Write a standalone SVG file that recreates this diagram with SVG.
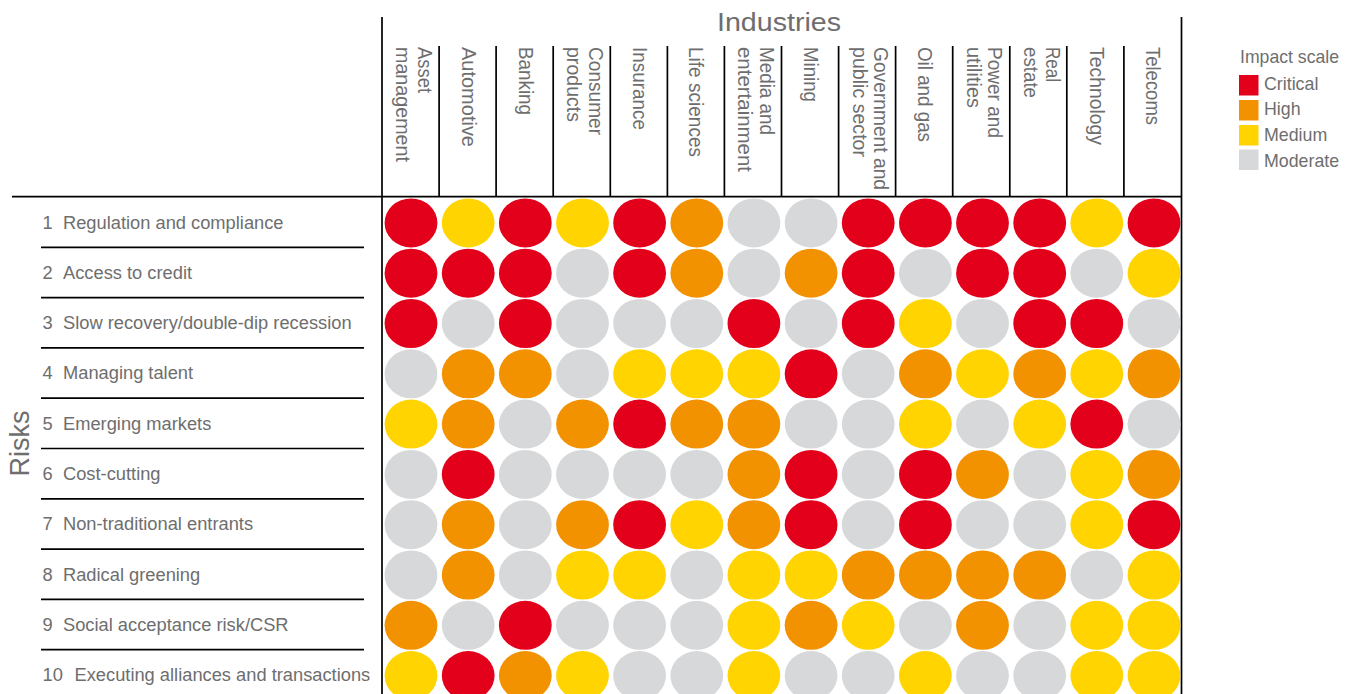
<svg xmlns="http://www.w3.org/2000/svg" width="1354" height="694" viewBox="0 0 1354 694">
<style>
text{font-family:"Liberation Sans",Arial,sans-serif;fill:#6e6e6e}
.col{font-size:21px}
.row{font-size:18.3px}
.leg{font-size:17.8px}
.ln{stroke:#000;stroke-width:1.7;fill:none}
.r{fill:#E3001B}.o{fill:#F39200}.y{fill:#FFD400}.g{fill:#D7D8DA}
</style>
<rect width="1354" height="694" fill="#fff"/>
<g id="lines">
<path class="ln" d="M382 17V694M1181.5 17V694M12 196.7H1182"/>
<path class="ln" d="M439.1 46V196M496.1 46V196M553.2 46V196M610.3 46V196M667.4 46V196M724.4 46V196M781.5 46V196M838.6 46V196M895.6 46V196M952.7 46V196M1009.8 46V196M1066.8 46V196M1123.9 46V196"/>
<path class="ln" d="M41 247.3H364M41 297.6H364M41 347.9H364M41 398.2H364M41 448.5H364M41 498.8H364M41 549.1H364M41 599.4H364M41 649.7H364"/>
</g>
<g id="titles">
<text x="779" y="30.5" font-size="26.5" text-anchor="middle" textLength="124" lengthAdjust="spacingAndGlyphs">Industries</text>
<text transform="translate(29,443.5) rotate(-90)" font-size="27" text-anchor="middle">Risks</text>
</g>
<g id="industries" class="col">
<text class="col" transform="translate(417.5,47) rotate(90)" textLength="46" lengthAdjust="spacingAndGlyphs">Asset</text>
<text class="col" transform="translate(396,47) rotate(90)" textLength="115" lengthAdjust="spacingAndGlyphs">management</text>
<text class="col" transform="translate(462,47) rotate(90)" textLength="100" lengthAdjust="spacingAndGlyphs">Automotive</text>
<text class="col" transform="translate(518.5,47) rotate(90)" textLength="68" lengthAdjust="spacingAndGlyphs">Banking</text>
<text class="col" transform="translate(589,47) rotate(90)" textLength="88" lengthAdjust="spacingAndGlyphs">Consumer</text>
<text class="col" transform="translate(567,47) rotate(90)" textLength="75" lengthAdjust="spacingAndGlyphs">products</text>
<text class="col" transform="translate(632.5,47) rotate(90)" textLength="83" lengthAdjust="spacingAndGlyphs">Insurance</text>
<text class="col" transform="translate(689,47) rotate(90)" textLength="110" lengthAdjust="spacingAndGlyphs">Life sciences</text>
<text class="col" transform="translate(759.5,47) rotate(90)" textLength="88" lengthAdjust="spacingAndGlyphs">Media and</text>
<text class="col" transform="translate(737.5,47) rotate(90)" textLength="125" lengthAdjust="spacingAndGlyphs">entertainment</text>
<text class="col" transform="translate(803.5,47) rotate(90)" textLength="55" lengthAdjust="spacingAndGlyphs">Mining</text>
<text class="col" transform="translate(874,47) rotate(90)" textLength="143" lengthAdjust="spacingAndGlyphs">Government and</text>
<text class="col" transform="translate(852.5,47) rotate(90)" textLength="110" lengthAdjust="spacingAndGlyphs">public sector</text>
<text class="col" transform="translate(917.5,47) rotate(90)" textLength="95" lengthAdjust="spacingAndGlyphs">Oil and gas</text>
<text class="col" transform="translate(988,47) rotate(90)" textLength="91" lengthAdjust="spacingAndGlyphs">Power and</text>
<text class="col" transform="translate(966.5,47) rotate(90)" textLength="61" lengthAdjust="spacingAndGlyphs">utilities</text>
<text class="col" transform="translate(1045.5,47) rotate(90)" textLength="35" lengthAdjust="spacingAndGlyphs">Real</text>
<text class="col" transform="translate(1023.5,47) rotate(90)" textLength="51" lengthAdjust="spacingAndGlyphs">estate</text>
<text class="col" transform="translate(1089.5,47) rotate(90)" textLength="98" lengthAdjust="spacingAndGlyphs">Technology</text>
<text class="col" transform="translate(1146,47) rotate(90)" textLength="78" lengthAdjust="spacingAndGlyphs">Telecoms</text>
</g>
<g id="legend">
<text class="leg" x="1240" y="63" textLength="99" lengthAdjust="spacingAndGlyphs">Impact scale</text>
<rect class="r" x="1239" y="75" width="19.5" height="20.5"/>
<rect class="o" x="1239" y="100" width="19.5" height="20.5"/>
<rect class="y" x="1239" y="125" width="19.5" height="20.5"/>
<rect class="g" x="1239" y="149.5" width="19.5" height="20.5"/>
<text class="leg" x="1264" y="89.5">Critical</text>
<text class="leg" x="1264" y="115">High</text>
<text class="leg" x="1264" y="141">Medium</text>
<text class="leg" x="1264" y="166.5">Moderate</text>
</g>
<g id="risk1"><text class="row" x="42.5" y="228.5">1</text><text class="row" x="63" y="228.5">Regulation and compliance</text>
<ellipse class="r" cx="411" cy="222.9" rx="26.4" ry="24.5"/><ellipse class="y" cx="468.2" cy="222.9" rx="26.4" ry="24.5"/><ellipse class="r" cx="525.3" cy="222.9" rx="26.4" ry="24.5"/><ellipse class="y" cx="582.5" cy="222.9" rx="26.4" ry="24.5"/><ellipse class="r" cx="639.6" cy="222.9" rx="26.4" ry="24.5"/><ellipse class="o" cx="696.8" cy="222.9" rx="26.4" ry="24.5"/><ellipse class="g" cx="753.9" cy="222.9" rx="26.4" ry="24.5"/><ellipse class="g" cx="811.1" cy="222.9" rx="26.4" ry="24.5"/><ellipse class="r" cx="868.2" cy="222.9" rx="26.4" ry="24.5"/><ellipse class="r" cx="925.4" cy="222.9" rx="26.4" ry="24.5"/><ellipse class="r" cx="982.5" cy="222.9" rx="26.4" ry="24.5"/><ellipse class="r" cx="1039.7" cy="222.9" rx="26.4" ry="24.5"/><ellipse class="y" cx="1096.8" cy="222.9" rx="26.4" ry="24.5"/><ellipse class="r" cx="1154" cy="222.9" rx="26.4" ry="24.5"/></g>
<g id="risk2"><text class="row" x="42.5" y="278.8">2</text><text class="row" x="63" y="278.8">Access to credit</text>
<ellipse class="r" cx="411" cy="273.2" rx="26.4" ry="24.5"/><ellipse class="r" cx="468.2" cy="273.2" rx="26.4" ry="24.5"/><ellipse class="r" cx="525.3" cy="273.2" rx="26.4" ry="24.5"/><ellipse class="g" cx="582.5" cy="273.2" rx="26.4" ry="24.5"/><ellipse class="r" cx="639.6" cy="273.2" rx="26.4" ry="24.5"/><ellipse class="o" cx="696.8" cy="273.2" rx="26.4" ry="24.5"/><ellipse class="g" cx="753.9" cy="273.2" rx="26.4" ry="24.5"/><ellipse class="o" cx="811.1" cy="273.2" rx="26.4" ry="24.5"/><ellipse class="r" cx="868.2" cy="273.2" rx="26.4" ry="24.5"/><ellipse class="g" cx="925.4" cy="273.2" rx="26.4" ry="24.5"/><ellipse class="r" cx="982.5" cy="273.2" rx="26.4" ry="24.5"/><ellipse class="r" cx="1039.7" cy="273.2" rx="26.4" ry="24.5"/><ellipse class="g" cx="1096.8" cy="273.2" rx="26.4" ry="24.5"/><ellipse class="y" cx="1154" cy="273.2" rx="26.4" ry="24.5"/></g>
<g id="risk3"><text class="row" x="42.5" y="329.1">3</text><text class="row" x="63" y="329.1">Slow recovery/double-dip recession</text>
<ellipse class="r" cx="411" cy="323.5" rx="26.4" ry="24.5"/><ellipse class="g" cx="468.2" cy="323.5" rx="26.4" ry="24.5"/><ellipse class="r" cx="525.3" cy="323.5" rx="26.4" ry="24.5"/><ellipse class="g" cx="582.5" cy="323.5" rx="26.4" ry="24.5"/><ellipse class="g" cx="639.6" cy="323.5" rx="26.4" ry="24.5"/><ellipse class="g" cx="696.8" cy="323.5" rx="26.4" ry="24.5"/><ellipse class="r" cx="753.9" cy="323.5" rx="26.4" ry="24.5"/><ellipse class="g" cx="811.1" cy="323.5" rx="26.4" ry="24.5"/><ellipse class="r" cx="868.2" cy="323.5" rx="26.4" ry="24.5"/><ellipse class="y" cx="925.4" cy="323.5" rx="26.4" ry="24.5"/><ellipse class="g" cx="982.5" cy="323.5" rx="26.4" ry="24.5"/><ellipse class="r" cx="1039.7" cy="323.5" rx="26.4" ry="24.5"/><ellipse class="r" cx="1096.8" cy="323.5" rx="26.4" ry="24.5"/><ellipse class="g" cx="1154" cy="323.5" rx="26.4" ry="24.5"/></g>
<g id="risk4"><text class="row" x="42.5" y="379.4">4</text><text class="row" x="63" y="379.4">Managing talent</text>
<ellipse class="g" cx="411" cy="373.8" rx="26.4" ry="24.5"/><ellipse class="o" cx="468.2" cy="373.8" rx="26.4" ry="24.5"/><ellipse class="o" cx="525.3" cy="373.8" rx="26.4" ry="24.5"/><ellipse class="g" cx="582.5" cy="373.8" rx="26.4" ry="24.5"/><ellipse class="y" cx="639.6" cy="373.8" rx="26.4" ry="24.5"/><ellipse class="y" cx="696.8" cy="373.8" rx="26.4" ry="24.5"/><ellipse class="y" cx="753.9" cy="373.8" rx="26.4" ry="24.5"/><ellipse class="r" cx="811.1" cy="373.8" rx="26.4" ry="24.5"/><ellipse class="g" cx="868.2" cy="373.8" rx="26.4" ry="24.5"/><ellipse class="o" cx="925.4" cy="373.8" rx="26.4" ry="24.5"/><ellipse class="y" cx="982.5" cy="373.8" rx="26.4" ry="24.5"/><ellipse class="o" cx="1039.7" cy="373.8" rx="26.4" ry="24.5"/><ellipse class="y" cx="1096.8" cy="373.8" rx="26.4" ry="24.5"/><ellipse class="o" cx="1154" cy="373.8" rx="26.4" ry="24.5"/></g>
<g id="risk5"><text class="row" x="42.5" y="429.7">5</text><text class="row" x="63" y="429.7">Emerging markets</text>
<ellipse class="y" cx="411" cy="424.1" rx="26.4" ry="24.5"/><ellipse class="o" cx="468.2" cy="424.1" rx="26.4" ry="24.5"/><ellipse class="g" cx="525.3" cy="424.1" rx="26.4" ry="24.5"/><ellipse class="o" cx="582.5" cy="424.1" rx="26.4" ry="24.5"/><ellipse class="r" cx="639.6" cy="424.1" rx="26.4" ry="24.5"/><ellipse class="o" cx="696.8" cy="424.1" rx="26.4" ry="24.5"/><ellipse class="o" cx="753.9" cy="424.1" rx="26.4" ry="24.5"/><ellipse class="g" cx="811.1" cy="424.1" rx="26.4" ry="24.5"/><ellipse class="g" cx="868.2" cy="424.1" rx="26.4" ry="24.5"/><ellipse class="y" cx="925.4" cy="424.1" rx="26.4" ry="24.5"/><ellipse class="g" cx="982.5" cy="424.1" rx="26.4" ry="24.5"/><ellipse class="y" cx="1039.7" cy="424.1" rx="26.4" ry="24.5"/><ellipse class="r" cx="1096.8" cy="424.1" rx="26.4" ry="24.5"/><ellipse class="g" cx="1154" cy="424.1" rx="26.4" ry="24.5"/></g>
<g id="risk6"><text class="row" x="42.5" y="480">6</text><text class="row" x="63" y="480">Cost-cutting</text>
<ellipse class="g" cx="411" cy="474.4" rx="26.4" ry="24.5"/><ellipse class="r" cx="468.2" cy="474.4" rx="26.4" ry="24.5"/><ellipse class="g" cx="525.3" cy="474.4" rx="26.4" ry="24.5"/><ellipse class="g" cx="582.5" cy="474.4" rx="26.4" ry="24.5"/><ellipse class="g" cx="639.6" cy="474.4" rx="26.4" ry="24.5"/><ellipse class="g" cx="696.8" cy="474.4" rx="26.4" ry="24.5"/><ellipse class="o" cx="753.9" cy="474.4" rx="26.4" ry="24.5"/><ellipse class="r" cx="811.1" cy="474.4" rx="26.4" ry="24.5"/><ellipse class="g" cx="868.2" cy="474.4" rx="26.4" ry="24.5"/><ellipse class="r" cx="925.4" cy="474.4" rx="26.4" ry="24.5"/><ellipse class="o" cx="982.5" cy="474.4" rx="26.4" ry="24.5"/><ellipse class="g" cx="1039.7" cy="474.4" rx="26.4" ry="24.5"/><ellipse class="y" cx="1096.8" cy="474.4" rx="26.4" ry="24.5"/><ellipse class="o" cx="1154" cy="474.4" rx="26.4" ry="24.5"/></g>
<g id="risk7"><text class="row" x="42.5" y="530.3">7</text><text class="row" x="63" y="530.3">Non-traditional entrants</text>
<ellipse class="g" cx="411" cy="524.7" rx="26.4" ry="24.5"/><ellipse class="o" cx="468.2" cy="524.7" rx="26.4" ry="24.5"/><ellipse class="g" cx="525.3" cy="524.7" rx="26.4" ry="24.5"/><ellipse class="o" cx="582.5" cy="524.7" rx="26.4" ry="24.5"/><ellipse class="r" cx="639.6" cy="524.7" rx="26.4" ry="24.5"/><ellipse class="y" cx="696.8" cy="524.7" rx="26.4" ry="24.5"/><ellipse class="o" cx="753.9" cy="524.7" rx="26.4" ry="24.5"/><ellipse class="r" cx="811.1" cy="524.7" rx="26.4" ry="24.5"/><ellipse class="g" cx="868.2" cy="524.7" rx="26.4" ry="24.5"/><ellipse class="r" cx="925.4" cy="524.7" rx="26.4" ry="24.5"/><ellipse class="g" cx="982.5" cy="524.7" rx="26.4" ry="24.5"/><ellipse class="g" cx="1039.7" cy="524.7" rx="26.4" ry="24.5"/><ellipse class="y" cx="1096.8" cy="524.7" rx="26.4" ry="24.5"/><ellipse class="r" cx="1154" cy="524.7" rx="26.4" ry="24.5"/></g>
<g id="risk8"><text class="row" x="42.5" y="580.6">8</text><text class="row" x="63" y="580.6">Radical greening</text>
<ellipse class="g" cx="411" cy="575" rx="26.4" ry="24.5"/><ellipse class="o" cx="468.2" cy="575" rx="26.4" ry="24.5"/><ellipse class="g" cx="525.3" cy="575" rx="26.4" ry="24.5"/><ellipse class="y" cx="582.5" cy="575" rx="26.4" ry="24.5"/><ellipse class="y" cx="639.6" cy="575" rx="26.4" ry="24.5"/><ellipse class="g" cx="696.8" cy="575" rx="26.4" ry="24.5"/><ellipse class="y" cx="753.9" cy="575" rx="26.4" ry="24.5"/><ellipse class="y" cx="811.1" cy="575" rx="26.4" ry="24.5"/><ellipse class="o" cx="868.2" cy="575" rx="26.4" ry="24.5"/><ellipse class="o" cx="925.4" cy="575" rx="26.4" ry="24.5"/><ellipse class="o" cx="982.5" cy="575" rx="26.4" ry="24.5"/><ellipse class="o" cx="1039.7" cy="575" rx="26.4" ry="24.5"/><ellipse class="g" cx="1096.8" cy="575" rx="26.4" ry="24.5"/><ellipse class="y" cx="1154" cy="575" rx="26.4" ry="24.5"/></g>
<g id="risk9"><text class="row" x="42.5" y="630.9">9</text><text class="row" x="63" y="630.9">Social acceptance risk/CSR</text>
<ellipse class="o" cx="411" cy="625.3" rx="26.4" ry="24.5"/><ellipse class="g" cx="468.2" cy="625.3" rx="26.4" ry="24.5"/><ellipse class="r" cx="525.3" cy="625.3" rx="26.4" ry="24.5"/><ellipse class="g" cx="582.5" cy="625.3" rx="26.4" ry="24.5"/><ellipse class="g" cx="639.6" cy="625.3" rx="26.4" ry="24.5"/><ellipse class="g" cx="696.8" cy="625.3" rx="26.4" ry="24.5"/><ellipse class="y" cx="753.9" cy="625.3" rx="26.4" ry="24.5"/><ellipse class="o" cx="811.1" cy="625.3" rx="26.4" ry="24.5"/><ellipse class="y" cx="868.2" cy="625.3" rx="26.4" ry="24.5"/><ellipse class="g" cx="925.4" cy="625.3" rx="26.4" ry="24.5"/><ellipse class="o" cx="982.5" cy="625.3" rx="26.4" ry="24.5"/><ellipse class="g" cx="1039.7" cy="625.3" rx="26.4" ry="24.5"/><ellipse class="y" cx="1096.8" cy="625.3" rx="26.4" ry="24.5"/><ellipse class="y" cx="1154" cy="625.3" rx="26.4" ry="24.5"/></g>
<g id="risk10"><text class="row" x="42.5" y="681.2">10</text><text class="row" x="74.5" y="681.2">Executing alliances and transactions</text>
<ellipse class="y" cx="411" cy="675.6" rx="26.4" ry="24.5"/><ellipse class="r" cx="468.2" cy="675.6" rx="26.4" ry="24.5"/><ellipse class="o" cx="525.3" cy="675.6" rx="26.4" ry="24.5"/><ellipse class="y" cx="582.5" cy="675.6" rx="26.4" ry="24.5"/><ellipse class="g" cx="639.6" cy="675.6" rx="26.4" ry="24.5"/><ellipse class="g" cx="696.8" cy="675.6" rx="26.4" ry="24.5"/><ellipse class="y" cx="753.9" cy="675.6" rx="26.4" ry="24.5"/><ellipse class="g" cx="811.1" cy="675.6" rx="26.4" ry="24.5"/><ellipse class="g" cx="868.2" cy="675.6" rx="26.4" ry="24.5"/><ellipse class="y" cx="925.4" cy="675.6" rx="26.4" ry="24.5"/><ellipse class="g" cx="982.5" cy="675.6" rx="26.4" ry="24.5"/><ellipse class="g" cx="1039.7" cy="675.6" rx="26.4" ry="24.5"/><ellipse class="y" cx="1096.8" cy="675.6" rx="26.4" ry="24.5"/><ellipse class="y" cx="1154" cy="675.6" rx="26.4" ry="24.5"/></g>
</svg>
